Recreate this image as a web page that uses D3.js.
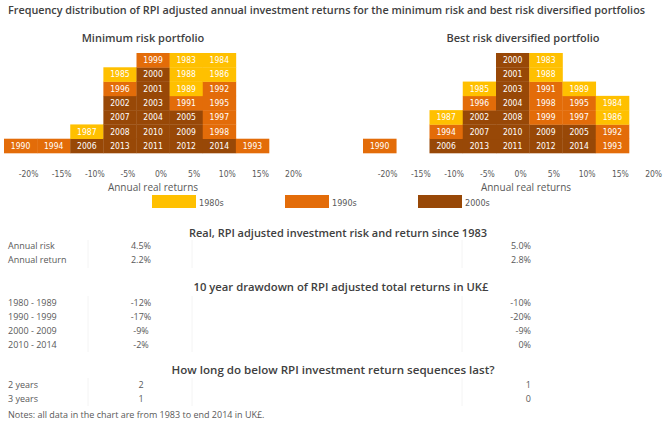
<!DOCTYPE html>
<html>
<head>
<meta charset="utf-8">
<script src="https://cdn.jsdelivr.net/npm/d3@7"></script>
<style>
  html, body { margin: 0; padding: 0; background: #ffffff; }
  svg { display: block; }
</style>
</head>
<body>
<svg id="chart" width="664" height="428"></svg>
<script>
// ---------------- DATA ----------------
const decades = ["1980s", "1990s", "2000s"];
const decadeColors = ["#FFC000", "#E36C09", "#984807"];

// Years stacked in each return bucket (bottom to top), 8 buckets left to right
const minRiskColumns = [
  [1990],
  [1994],
  [2006, 1987],
  [2013, 2008, 2007, 2002, 1996, 1985],
  [2011, 2010, 2004, 2003, 2001, 2000, 1999],
  [2012, 2009, 2005, 1991, 1989, 1988, 1983],
  [2014, 1998, 1997, 1995, 1992, 1986, 1984],
  [1993]
];
const bestRiskColumns = [
  [1990],
  [],
  [2006, 1994, 1987],
  [2013, 2007, 2002, 1996, 1985],
  [2011, 2010, 2008, 2004, 2003, 2001, 2000],
  [2012, 2009, 1999, 1998, 1991, 1988, 1983],
  [2014, 2005, 1997, 1995, 1989],
  [1993, 1992, 1986, 1984]
];
const tickLabels = ["-20%", "-15%", "-10%", "-5%", "0%", "5%", "10%", "15%", "20%"];

const riskRows = ["Annual risk", "Annual return"];
const minRiskStats = ["4.5%", "2.2%"];
const bestRiskStats = ["5.0%", "2.8%"];

const drawdownRows = ["1980 - 1989", "1990 - 1999", "2000 - 2009", "2010 - 2014"];
const minDrawdown = ["-12%", "-17%", "-9%", "-2%"];
const bestDrawdown = ["-10%", "-20%", "-9%", "0%"];

const sequenceRows = ["2 years", "3 years"];
const minSequence = ["2", "1"];
const bestSequence = ["1", "0"];

// ---------------- DRAWING ----------------
const svg = d3.select("#chart");
const FONT = "'Open Sans', 'Noto Sans', sans-serif";
const NARROW = "'Liberation Sans Narrow', 'Arial Narrow', 'DejaVu Sans Condensed', sans-serif";
const titleColor = "#404040";
const labelColor = "#595959";

function txt(x, y, s, opts = {}) {
  const t = svg.append("text")
    .attr("x", x).attr("y", y)
    .attr("font-family", opts.family || FONT)
    .attr("font-size", opts.size || 9)
    .attr("font-weight", opts.weight || "normal")
    .attr("fill", opts.fill || labelColor)
    .attr("text-anchor", opts.anchor || "start")
    .text(s);
  if (opts.len) t.attr("textLength", opts.len).attr("lengthAdjust", "spacingAndGlyphs");
  return t;
}

function decadeIndex(year) {
  if (year < 1990) return 0;
  if (year < 2000) return 1;
  return 2;
}

// main title
txt(8, 14, "Frequency distribution of RPI adjusted annual investment returns for the minimum  risk and best risk diversified portfolios",
  { size: 11, weight: 600, fill: titleColor, len: 637 });

const y = d3.scaleLinear().domain([0, 7]).range([153, 53]);

function drawHistogram(columns, range, title, titleX, axisTitleX) {
  const x = d3.scaleBand().domain(d3.range(columns.length)).range(range).padding(0);
  const bw = x.bandwidth();
  const cells = [];
  columns.forEach((col, ci) => col.forEach((yr, ri) => cells.push({ ci, ri, yr })));

  const g = svg.append("g");
  g.selectAll("rect.cell").data(cells).join("rect")
    .attr("class", "cell")
    .attr("x", d => x(d.ci))
    .attr("y", d => y(d.ri + 1))
    .attr("width", bw + 0.3)
    .attr("height", d => y(d.ri) - y(d.ri + 1) + 0.3)
    .attr("fill", d => decadeColors[decadeIndex(d.yr)]);

  g.selectAll("text.yr").data(cells).join("text")
    .attr("class", "yr")
    .attr("x", d => x(d.ci) + bw / 2)
    .attr("y", d => (y(d.ri) + y(d.ri + 1)) / 2 + 3)
    .attr("text-anchor", "middle")
    .attr("font-family", NARROW)
    .attr("font-size", 8.5)
    .attr("fill", "#ffffff")
    .text(d => d.yr);

  // tick labels (offset from column centres as in the original)
  const tickX = d3.scaleLinear().domain([0, 8]).range([x(0) + bw / 2 + 8, x(0) + bw * 8.5 + 8]);
  g.selectAll("text.tick").data(tickLabels).join("text")
    .attr("class", "tick")
    .attr("x", (d, i) => tickX(i))
    .attr("y", 176.5)
    .attr("text-anchor", "middle")
    .attr("font-family", NARROW)
    .attr("font-size", 8.5)
    .attr("fill", labelColor)
    .text(d => d);

  txt(titleX, 42, title, { size: 11, weight: 600, fill: titleColor, anchor: "middle" });
  txt(axisTitleX, 191, "Annual real returns", { size: 10, fill: labelColor, anchor: "middle" });
}

drawHistogram(minRiskColumns, [4, 269], "Minimum risk portfolio", 143, 153);
drawHistogram(bestRiskColumns, [363, 629], "Best risk diversified portfolio", 523, 526);

// legend
const legendX = d3.scaleLinear().domain([0, 2]).range([152, 418]);
decades.forEach((d, i) => {
  svg.append("rect").attr("x", legendX(i)).attr("y", 195).attr("width", 44).attr("height", 13)
    .attr("fill", decadeColors[i]);
  txt(legendX(i) + 47, 206, d, { family: NARROW, size: 9, fill: labelColor });
});

// faint table gridlines
function vlines(y0, y1) {
  [88, 192, 462].forEach(xx => {
    svg.append("line").attr("x1", xx).attr("x2", xx).attr("y1", y0).attr("y2", y1)
      .attr("stroke", "#f4f4f4").attr("stroke-width", 1);
  });
}
vlines(240, 268);
vlines(296, 352);
vlines(378, 406);

function drawTable(title, titleX, titleY, titleLen, rows, leftVals, rightVals, rowYs) {
  txt(titleX, titleY, title, { size: 11, weight: 600, fill: titleColor, anchor: "middle", len: titleLen });
  rows.forEach((r, i) => {
    txt(8, rowYs[i], r, { size: 9 });
    txt(141, rowYs[i], leftVals[i], { size: 9, anchor: "middle" });
    txt(531, rowYs[i], rightVals[i], { size: 9, anchor: "end" });
  });
}

drawTable("Real, RPI adjusted investment risk and return since 1983", 338, 237, 298,
  riskRows, minRiskStats, bestRiskStats, [249, 263]);
drawTable("10 year drawdown of RPI adjusted total returns in UK£", 341, 291, 295,
  drawdownRows, minDrawdown, bestDrawdown, [306, 320, 334, 348]);
drawTable("How long do below RPI investment return sequences last?", 333, 374, 323,
  sequenceRows, minSequence, bestSequence, [388, 402]);

txt(8, 418, "Notes: all data in the chart are from 1983 to end 2014 in UK£.", { size: 9 });
</script>
</body>
</html>
